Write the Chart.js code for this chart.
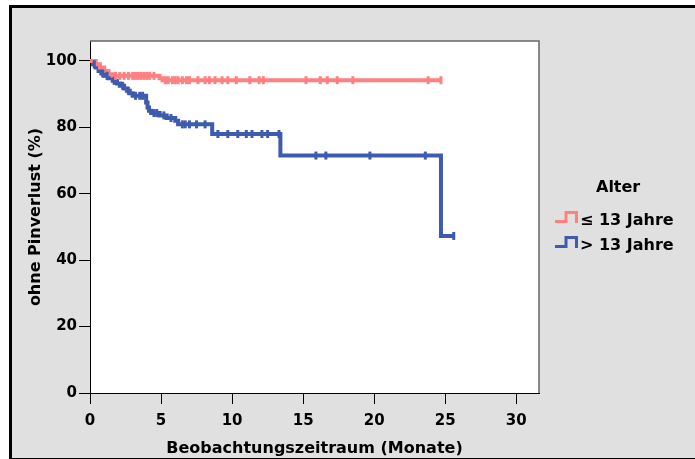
<!DOCTYPE html>
<html>
<head>
<meta charset="utf-8">
<script src="https://cdn.jsdelivr.net/npm/chart.js@4"></script>
<style>
  html, body { margin: 0; padding: 0; background: #fff; }
  #frame {
    position: absolute; left: 9px; top: 5px; width: 700px; height: 450px;
    background: #e0e0e0; border: 3px solid #000; border-right: none;
  }
  #c { position: absolute; left: 0; top: 0; }
  .lg { position: absolute; font: bold 16px "DejaVu Sans", sans-serif; color: #000; white-space: nowrap; }
  .icon { position: absolute; width: 24px; height: 12px; }
</style>
</head>
<body>
<div id="frame"></div>
<canvas id="c" width="695" height="459"></canvas>
<div class="lg" style="left:596px; top:177px;">Alter</div>
<canvas class="icon" id="icon1" width="24" height="12" style="left:555px; top:211px;"></canvas>
<div class="lg" style="left:580px; top:210px;">≤ 13 Jahre</div>
<canvas class="icon" id="icon2" width="24" height="12" style="left:555px; top:236px;"></canvas>
<div class="lg" style="left:580px; top:235px;">&gt; 13 Jahre</div>
<script>
// Kaplan-Meier data (months, % without pin loss)
const youngTimes = [0, 0.4, 0.7, 1.0, 1.3, 1.6, 4.9, 5.1, 24.7];
const youngSurv  = [100, 99, 98, 97, 96, 95.5, 94.8, 94.2, 94.2];
const youngCensored = [1.8, 2.1, 2.4, 2.7, 3.0, 3.2, 3.4, 3.6, 3.8, 4.0, 4.2, 4.5,
  5.3, 5.5, 5.8, 6.0, 6.2, 6.5, 6.8, 7.0, 7.6, 8.1, 8.4, 8.8, 9.3, 9.7, 10.3,
  11.25, 11.9, 12.2, 15.2, 16.2, 16.7, 17.4, 18.5, 23.8, 24.7];

const oldTimes = [0, 0.2, 0.4, 0.6, 0.8, 1.0, 1.3, 1.6, 1.9, 2.1, 2.4, 2.6, 2.8, 3.0,
  3.95, 4.05, 4.15, 4.3, 4.9, 5.4, 6.0, 6.2, 8.6, 13.4, 24.7, 25.6];
const oldSurv = [100, 99, 98, 97, 96.2, 95.5, 94.8, 94, 93.2, 92.5, 91.7, 91, 90.3, 89.5,
  87.5, 86, 85, 84.3, 83.6, 82.8, 82, 80.9, 78, 71.5, 47.3, 47.3];
const oldCensored = [0.3, 0.9, 1.2, 1.7, 2.3, 2.7, 3.2, 3.5, 3.7, 4.5, 4.7, 5.2, 5.7,
  6.5, 6.7, 7.0, 7.5, 8.1, 9.0, 9.7, 10.4, 11.0, 11.4, 12.1, 12.5, 13.3,
  15.9, 16.6, 19.7, 23.6, 25.6];

const xTicks = [0, 5, 10, 15, 20, 25, 30];
const yTicks = [0, 20, 40, 60, 80, 100];

const pink = '#ff8080';
const blue = '#3e5bb0';
const font = { family: '"DejaVu Sans", sans-serif', weight: 'bold' };

function stepValue(times, surv, t) {
  let v = surv[0];
  for (let i = 0; i < times.length; i++) if (times[i] <= t) v = surv[i];
  return v;
}
const toPoints = (times, surv) => times.map((t, i) => ({ x: t, y: surv[i] }));
const toCensor = (times, surv, cens) => cens.map(t => ({ x: t, y: stepValue(times, surv, t) }));

const lineSet = (data, color) => ({
  data, borderColor: color, borderWidth: 4, stepped: true, pointRadius: 0,
  fill: false, clip: false, order: 2
});
const censorSet = (data, color) => ({
  data, showLine: false, pointStyle: 'line', rotation: 90, pointRadius: 4,
  borderColor: color, backgroundColor: color, pointBorderWidth: 3, clip: false, order: 1
});

const framePlugin = {
  id: 'frame',
  beforeDraw(chart) {
    const { ctx, chartArea: a } = chart;
    ctx.save();
    ctx.fillStyle = '#fff';
    ctx.fillRect(a.left, a.top, a.right - a.left, a.bottom - a.top);
    ctx.restore();
  },
  afterDraw(chart) {
    const { ctx, chartArea: a } = chart;
    ctx.save();
    ctx.strokeStyle = '#666';
    ctx.lineWidth = 1.5;
    ctx.beginPath();
    ctx.moveTo(a.left, a.top);
    ctx.lineTo(a.right, a.top);
    ctx.lineTo(a.right, a.bottom);
    ctx.stroke();
    ctx.restore();
  }
};

new Chart(document.getElementById('c').getContext('2d'), {
  type: 'line',
  data: {
    datasets: [
      lineSet(toPoints(youngTimes, youngSurv), pink),
      lineSet(toPoints(oldTimes, oldSurv), blue),
      censorSet(toCensor(youngTimes, youngSurv, youngCensored), pink),
      censorSet(toCensor(oldTimes, oldSurv, oldCensored), blue)
    ]
  },
  options: {
    responsive: false,
    animation: false,
    layout: { padding: { left: 0, top: 41, right: 156, bottom: 0 } },
    plugins: { legend: { display: false }, tooltip: { enabled: false } },
    scales: {
      x: {
        type: 'linear', min: 0, max: 31.6,
        afterFit: s => { s.height = 66; },
        afterBuildTicks: s => { s.ticks = xTicks.map(v => ({ value: v })); },
        grid: { drawOnChartArea: false, drawTicks: true, tickLength: 11, color: '#000' },
        border: { color: '#000', width: 1 },
        ticks: { color: '#000', font: { ...font, size: 15 }, padding: 8, maxRotation: 0 },
        title: { display: true, text: 'Beobachtungszeitraum (Monate)', color: '#000',
          font: { ...font, size: 16 }, padding: { top: 0, bottom: 1 } }
      },
      y: {
        type: 'linear', min: 0, max: 106,
        afterFit: s => { s.width = 90; },
        afterBuildTicks: s => { s.ticks = yTicks.map(v => ({ value: v })); },
        grid: { drawOnChartArea: false, drawTicks: true, tickLength: 11, color: '#000' },
        border: { color: '#000', width: 1 },
        ticks: { color: '#000', font: { ...font, size: 15 }, padding: 2 },
        title: { display: true, text: 'ohne Pinverlust (%)', color: '#000',
          font: { ...font, size: 16 }, padding: { top: 26, bottom: 0 } }
      }
    }
  },
  plugins: [framePlugin]
});

// step icons for the legend
function drawIcon(id, color) {
  const ctx = document.getElementById(id).getContext('2d');
  ctx.strokeStyle = color;
  ctx.lineWidth = 3;
  ctx.beginPath();
  ctx.moveTo(0, 10.5);
  ctx.lineTo(11, 10.5);
  ctx.lineTo(11, 1.5);
  ctx.lineTo(21.5, 1.5);
  ctx.lineTo(21.5, 12);
  ctx.stroke();
}
drawIcon('icon1', pink);
drawIcon('icon2', blue);
</script>
</body>
</html>
